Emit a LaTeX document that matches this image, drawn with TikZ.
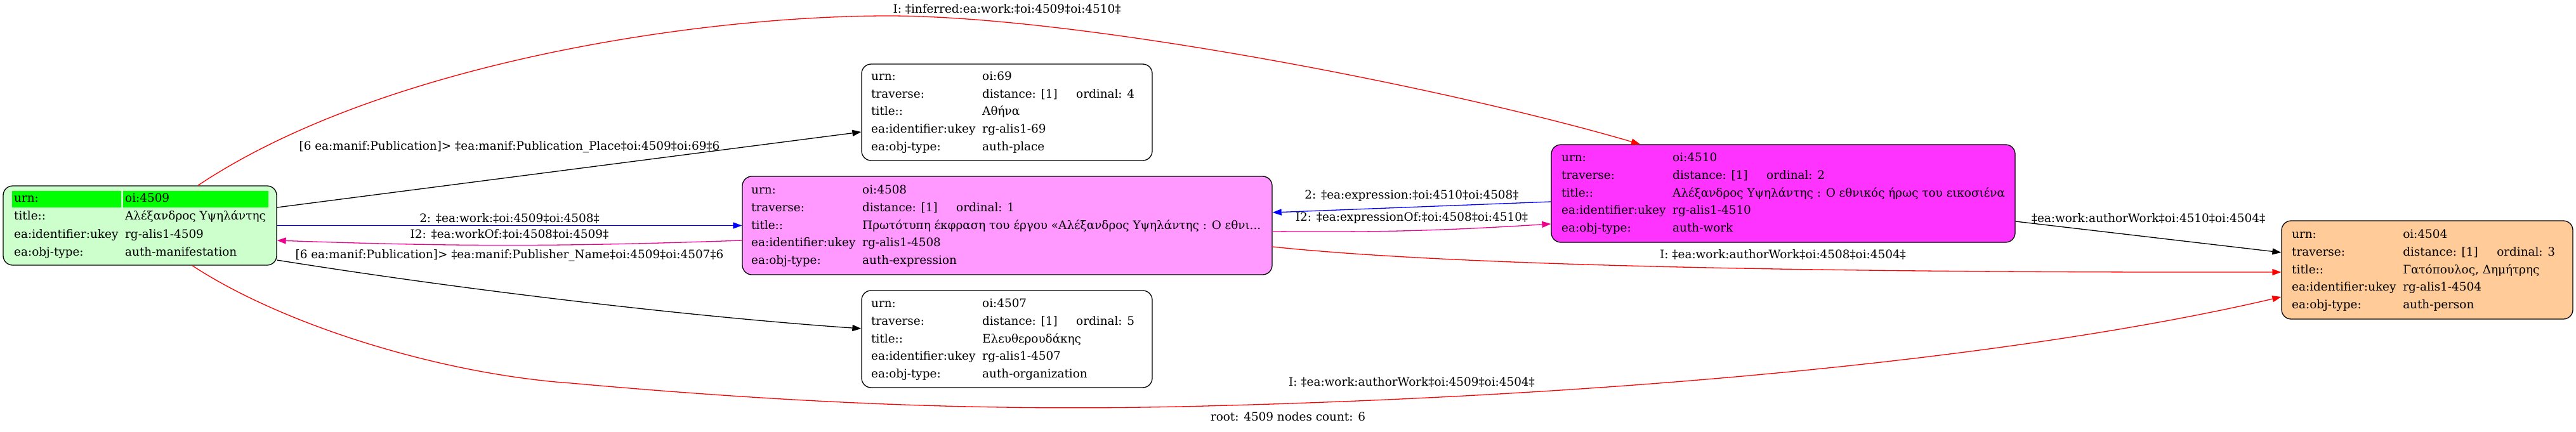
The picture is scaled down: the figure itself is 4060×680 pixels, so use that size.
\documentclass[tikz,border=0pt]{standalone}
\usepackage{fontspec}
\setmainfont{DejaVu Serif}
\usetikzlibrary{arrows.meta}
\definecolor{gfill}{HTML}{CCFFCC}
\definecolor{ghead}{HTML}{00FF00}
\definecolor{pfill}{HTML}{FF99FF}
\definecolor{mfill}{HTML}{FF33FF}
\definecolor{ofill}{HTML}{FFCC99}
\newcommand\dgfont{\fontsize{18.4}{22}\selectfont}
\tikzset{
  box/.style={draw=black, line width=1.3pt, rounded corners=15pt, inner sep=0pt},
  hcell/.style={fill=ghead, inner sep=0pt},
  txt/.style={anchor=base west, inner sep=0pt, font=\dgfont},
  elab/.style={anchor=base, inner sep=0pt, font=\dgfont},
  edge/.style={line width=1.3pt, -{Triangle[length=14pt,width=10pt]}},
}
% #1 id, #2 x of first column, #3 first baseline, #4 ordinal, #5 title, #6 obj-type
\newcommand\fiverows[6]{%
  \node[txt] (r#1a1) at (#2,#3) {urn:};
  \node[txt] (r#1b1) at (#2+175,#3) {oi:#1};
  \node[txt] (r#1a2) at (#2,#3+27.8) {traverse:};
  \node[txt] (r#1b2) at (#2+175,#3+27.8) {distance: [1]};
  \node[txt] (r#1c2) at (#2+323,#3+27.8) {ordinal: #4};
  \node[txt] (r#1a3) at (#2,#3+55.6) {title::};
  \node[txt] (r#1b3) at (#2+175,#3+55.6) {#5};
  \node[txt] (r#1a4) at (#2,#3+83.4) {ea:identifier:ukey};
  \node[txt] (r#1b4) at (#2+175,#3+83.4) {rg-alis1-#1};
  \node[txt] (r#1a5) at (#2,#3+111.2) {ea:obj-type:};
  \node[txt] (r#1b5) at (#2+175,#3+111.2) {#6};
}
\begin{document}
\begin{tikzpicture}[x=1pt,y=-1pt]
\fill[white] (0,0) rectangle (4060,680);
\useasboundingbox (0,0) rectangle (4060,680);

% nodes
\node[box, fill=gfill, minimum width=431pt, minimum height=125pt] (n4509) at (220.5,355.5) {};
\node[hcell, minimum width=172pt, minimum height=26pt] (h4509a) at (105,314) {};
\node[hcell, minimum width=229pt, minimum height=26pt] (h4509b) at (308.5,314) {};
\node[txt] (r4509a1) at (22,318.5) {urn:};
\node[txt] (r4509b1) at (197,318.5) {oi:4509};
\node[txt] (r4509a2) at (22,346.8) {title::};
\node[txt] (r4509b2) at (197,346.8) {Αλέξανδρος Υψηλάντης};
\node[txt] (r4509a3) at (22,375.1) {ea:identifier:ukey};
\node[txt] (r4509b3) at (197,375.1) {rg-alis1-4509};
\node[txt] (r4509a4) at (22,403.4) {ea:obj-type:};
\node[txt] (r4509b4) at (197,403.4) {auth-manifestation};

\node[box, fill=white, minimum width=458pt, minimum height=152pt] (n69) at (1587,177) {};
\fiverows{69}{1373}{126.2}{4}{Αθήνα}{auth-place}

\node[box, fill=pfill, minimum width=835pt, minimum height=155pt] (n4508) at (1587.5,355.5) {};
\fiverows{4508}{1184}{305.5}{1}{Πρωτότυπη έκφραση του έργου «Αλέξανδρος Υψηλάντης : Ο εθνι...}{auth-expression}

\node[box, fill=white, minimum width=458pt, minimum height=153pt] (n4507) at (1587,534.5) {};
\fiverows{4507}{1373}{484.5}{5}{Ελευθερουδάκης}{auth-organization}

\node[box, fill=mfill, minimum width=731pt, minimum height=154pt] (n4510) at (2810.5,305) {};
\fiverows{4510}{2461}{254.5}{2}{Αλέξανδρος Υψηλάντης : Ο εθνικός ήρως του εικοσιένα}{auth-work}

\node[box, fill=ofill, minimum width=459pt, minimum height=155pt] (n4504) at (3825.5,425.5) {};
\fiverows{4504}{3612}{375.5}{3}{Γατόπουλος, Δημήτρης}{auth-person}

% edges
\draw[edge] ([yshift=28.5pt]n4509.east) -- ([yshift=-31pt]n69.west);
\draw[edge, blue] (n4509.east) -- (n4508.west);
\draw[edge, magenta] ([yshift=-23.5pt]n4508.west) to[bend left=2] ([yshift=-23.5pt]n4509.east);
\draw[edge] ([yshift=-54.5pt]n4509.east) .. controls (750,460) and (1100,500) .. ([yshift=16.5pt]n4507.west);
\draw[edge, red] ([xshift=91.5pt]n4509.north) .. controls (600,100) and (1100,25) .. (1400,25) .. controls (1700,25) and (2280,138) .. ([xshift=-225.5pt]n4510.north);
\draw[edge, blue] ([yshift=-13pt]n4510.west) -- ([yshift=20.5pt]n4508.east);
\draw[edge, magenta] ([yshift=-9.5pt]n4508.east) to[bend right=2] ([yshift=-48pt]n4510.west);
\draw[edge] ([yshift=-44pt]n4510.east) -- ([yshift=27.5pt]n4504.west);
\draw[edge, red] ([yshift=-33.5pt]n4508.east) .. controls (2300,420) and (2900,430) .. ([yshift=-3.5pt]n4504.west);
\draw[edge, red] ([xshift=82.5pt]n4509.south) .. controls (450,515) and (700,590) .. (900,604) .. controls (1300,640) and (1600,648) .. (1900,640) .. controls (2600,622) and (3200,560) .. ([yshift=-42.5pt]n4504.west);

% edge labels
\node[elab] (l1) at (803,236) {[6 ea:manif:Publication]> ‡ea:manif:Publication\_Place‡oi:4509‡oi:69‡6};
\node[elab] (l2) at (803,350) {2: ‡ea:work:‡oi:4509‡oi:4508‡};
\node[elab] (l3) at (803,375) {I2: ‡ea:workOf:‡oi:4508‡oi:4509‡};
\node[elab] (l4) at (803,407) {[6 ea:manif:Publication]> ‡ea:manif:Publisher\_Name‡oi:4509‡oi:4507‡6};
\node[elab] (l5) at (1587,20) {I: ‡inferred:ea:work:‡oi:4509‡oi:4510‡};
\node[elab] (l6) at (2225,313) {2: ‡ea:expression:‡oi:4510‡oi:4508‡};
\node[elab] (l7) at (2225,348) {I2: ‡ea:expressionOf:‡oi:4508‡oi:4510‡};
\node[elab] (l8) at (3386,350) {‡ea:work:authorWork‡oi:4510‡oi:4504‡};
\node[elab] (l9) at (2810,407) {I: ‡ea:work:authorWork‡oi:4508‡oi:4504‡};
\node[elab] (l10) at (2225,608) {I: ‡ea:work:authorWork‡oi:4509‡oi:4504‡};
\node[elab] (root) at (2030,663) {root: 4509 nodes count: 6};
\end{tikzpicture}
\end{document}
